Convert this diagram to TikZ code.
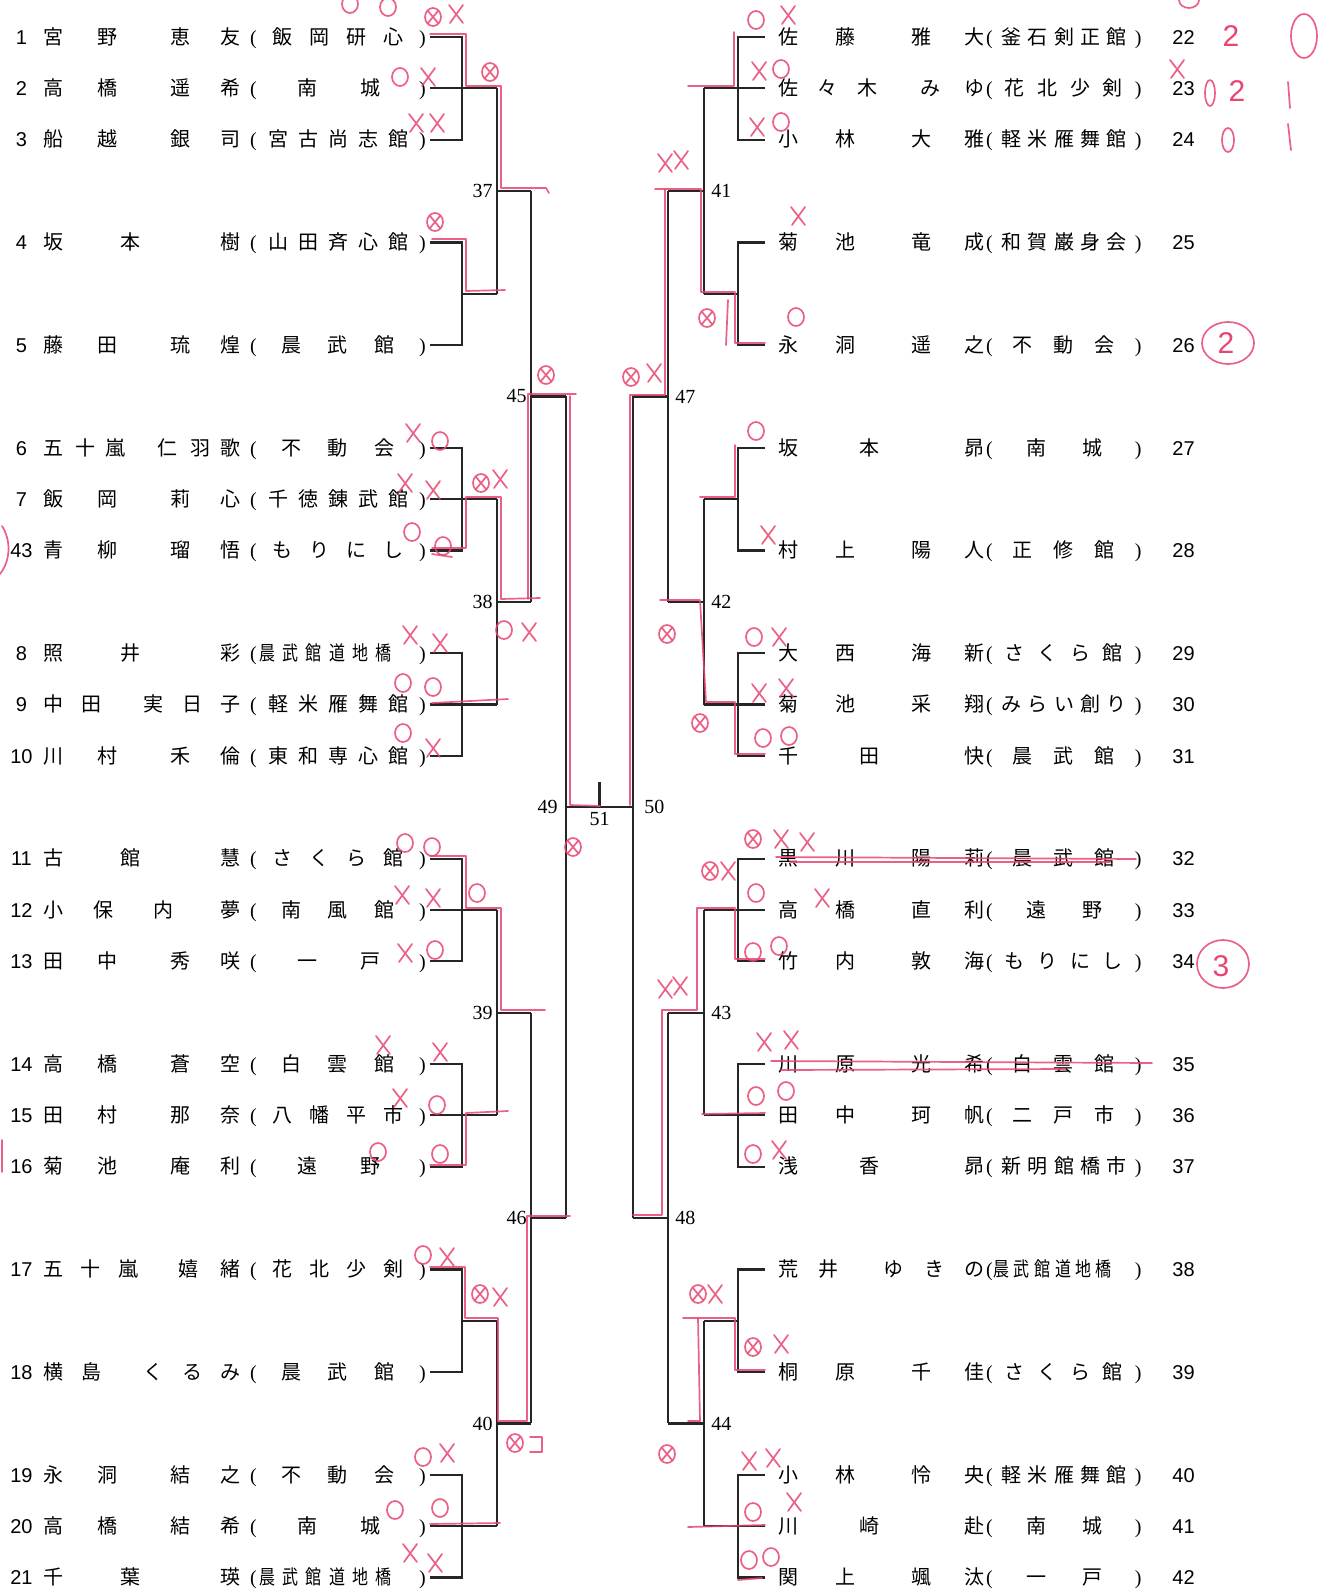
\documentclass[tikz,border=0pt]{standalone}
\usepackage{fontspec}
\setmainfont{Noto Sans CJK JP}
\newfontfamily\numf{Liberation Sans}
\newfontfamily\serf{Liberation Serif}
\usepackage{graphicx}
\usetikzlibrary{calc}
\newdimen\pxu \pxu=0.5pt
\definecolor{pen}{RGB}{232,70,112}
\newcommand\bkpc[2]{\rlap{\hspace*{#1\pxu}\makebox[0pt]{#2}}}
\def\nox{53}\def\nsc{1}\def\kox{253}\def\ksc{1}
\newcommand\bkpn[2]{\bkpc{\fpeval{\nox+\nsc*(#1-53)}}{#2}}
\newcommand\bkpk[2]{\bkpc{\fpeval{\kox+\ksc*(#1-253)}}{#2}}
\newcommand\sqz[1]{\scalebox{0.8}[1]{#1}}
\newcommand\nmA[4]{\bkpn{53}{#1}\bkpn{107}{#2}\bkpn{180}{#3}\bkpn{230}{#4}}
\newcommand\nmB[3]{\bkpn{53}{#1}\bkpn{130}{#2}\bkpn{230}{#3}}
\newcommand\nmC[5]{\bkpn{53}{#1}\bkpn{91}{#2}\bkpn{153}{#3}\bkpn{192}{#4}\bkpn{230}{#5}}
\newcommand\nmD[5]{\bkpn{53}{#1}\bkpn{90}{#2}\bkpn{128}{#3}\bkpn{188}{#4}\bkpn{230}{#5}}
\newcommand\nmE[6]{\bkpn{53}{#1}\bkpn{85}{#2}\bkpn{115}{#3}\bkpn{167}{#4}\bkpn{200}{#5}\bkpn{230}{#6}}
\newcommand\nmF[4]{\bkpn{53}{#1}\bkpn{103}{#2}\bkpn{163}{#3}\bkpn{230}{#4}}
\newcommand\clB[2]{\bkpk{307}{#1}\bkpk{370}{#2}}
\newcommand\clC[3]{\bkpk{291}{#1}\bkpk{337.5}{#2}\bkpk{384}{#3}}
\newcommand\clD[4]{\bkpk{282}{#1}\bkpk{319}{#2}\bkpk{356}{#3}\bkpk{393}{#4}}
\newcommand\clE[5]{\bkpk{278}{#1}\bkpk{308}{#2}\bkpk{338}{#3}\bkpk{368}{#4}\bkpk{398}{#5}}
\newcommand\clF[6]{\bkpk{267}{\sqz{#1}}\bkpk{290}{\sqz{#2}}\bkpk{313}{\sqz{#3}}\bkpk{337}{\sqz{#4}}\bkpk{360}{\sqz{#5}}\bkpk{383}{\sqz{#6}}}
\newcommand\Lrow[5]{%
  \node[rowtxt] (#1) at (0,{37+51.35*#2+7.2}) {\makebox[426\pxu][l]{\bkpc{21}{\numf #3}#4\bkpk{253}{\serf(}#5\bkpk{422}{\serf)}}};
  \coordinate (e#1) at (430,{37+51.35*#2});}
\newcommand\Rrow[5]{%
  \node[rowtxt] (#1) at (768,{37+51.35*#2+7.2}) {\makebox[430\pxu][l]{#4\bkpk{253}{\serf(}#5\bkpk{422}{\serf)}\rlap{\hspace*{404\pxu}\numf #3}}};
  \coordinate (e#1) at (765,{37+51.35*#2});}
\newcommand\hmO[2]{\draw[pen] (#1,#2) ellipse [x radius=8,y radius=9];}
\newcommand\hmX[2]{\draw[pen] (#1-7,#2-9) -- (#1+7,#2+9) (#1+7,#2-9) -- (#1-6,#2+9);}
\newcommand\hmOX[2]{\hmO{#1}{#2}\draw[pen] (#1-5,#2-6) -- (#1+5,#2+6) (#1+5,#2-6) -- (#1-5,#2+6);}
\begin{document}
\begin{tikzpicture}[x=0.5pt,y=-0.5pt,
  rowtxt/.style={anchor=base west,inner sep=0pt,font=\fontsize{10pt}{12pt}\selectfont},
  br/.style={draw=black!85,line width=1.1pt},
  jlL/.style={anchor=east,inner sep=1pt,xshift=-1pt,font=\serf\fontsize{10pt}{12pt}\selectfont},
  jlR/.style={anchor=west,inner sep=1pt,xshift=2.5pt,font=\serf\fontsize{10pt}{12pt}\selectfont},
  pen/.style={draw=pen,line width=0.85pt,line cap=round,line join=round,opacity=0.85},
  hnum/.style={text=pen,inner sep=0pt,font=\numf\fontsize{15pt}{15pt}\selectfont}]
\fill[white] (0,0) rectangle (1327,1591);
\useasboundingbox (0,0) rectangle (1327,1591);
% ---------- left entries
\Lrow{r1}{0}{1}{\nmA{宮}{野}{恵}{友}}{\clD{飯}{岡}{研}{心}}
\Lrow{r2}{1}{2}{\nmA{高}{橋}{遥}{希}}{\clB{南}{城}}
\Lrow{r3}{2}{3}{\nmA{船}{越}{銀}{司}}{\clE{宮}{古}{尚}{志}{館}}
\Lrow{r4}{4}{4}{\nmB{坂}{本}{樹}}{\clE{山}{田}{斉}{心}{館}}
\Lrow{r5}{6}{5}{\nmA{藤}{田}{琉}{煌}}{\clC{晨}{武}{館}}
\Lrow{r6}{8}{6}{\nmE{五}{十}{嵐}{仁}{羽}{歌}}{\clC{不}{動}{会}}
\Lrow{r7}{9}{7}{\nmA{飯}{岡}{莉}{心}}{\clE{千}{徳}{錬}{武}{館}}
\Lrow{r43}{10}{43}{\nmA{青}{柳}{瑠}{悟}}{\clD{も}{り}{に}{し}}
\Lrow{r8}{12}{8}{\nmB{照}{井}{彩}}{\clF{晨}{武}{館}{道}{地}{橋}}
\Lrow{r9}{13}{9}{\nmC{中}{田}{実}{日}{子}}{\clE{軽}{米}{雁}{舞}{館}}
\Lrow{r10}{14}{10}{\nmA{川}{村}{禾}{倫}}{\clE{東}{和}{専}{心}{館}}
\Lrow{r11}{16}{11}{\nmB{古}{館}{慧}}{\clD{さ}{く}{ら}{館}}
\Lrow{r12}{17}{12}{\nmF{小}{保}{内}{夢}}{\clC{南}{風}{館}}
\Lrow{r13}{18}{13}{\nmA{田}{中}{秀}{咲}}{\clB{一}{戸}}
\Lrow{r14}{20}{14}{\nmA{高}{橋}{蒼}{空}}{\clC{白}{雲}{館}}
\Lrow{r15}{21}{15}{\nmA{田}{村}{那}{奈}}{\clD{八}{幡}{平}{市}}
\Lrow{r16}{22}{16}{\nmA{菊}{池}{庵}{利}}{\clB{遠}{野}}
\Lrow{r17}{24}{17}{\nmD{五}{十}{嵐}{嬉}{緒}}{\clD{花}{北}{少}{剣}}
\Lrow{r18}{26}{18}{\nmC{横}{島}{く}{る}{み}}{\clC{晨}{武}{館}}
\Lrow{r19}{28}{19}{\nmA{永}{洞}{結}{之}}{\clC{不}{動}{会}}
\Lrow{r20}{29}{20}{\nmA{高}{橋}{結}{希}}{\clB{南}{城}}
\Lrow{r21}{30}{21}{\nmB{千}{葉}{瑛}}{\clF{晨}{武}{館}{道}{地}{橋}}
% ---------- right entries
\def\nox{20}\def\nsc{1.05}\def\kox{221}\def\ksc{0.88}
\Rrow{r22}{0}{22}{\nmA{佐}{藤}{雅}{大}}{\clE{釜}{石}{剣}{正}{館}}
\Rrow{r23}{1}{23}{\nmD{佐}{々}{木}{み}{ゆ}}{\clD{花}{北}{少}{剣}}
\Rrow{r24}{2}{24}{\nmA{小}{林}{大}{雅}}{\clE{軽}{米}{雁}{舞}{館}}
\Rrow{r25}{4}{25}{\nmA{菊}{池}{竜}{成}}{\clE{和}{賀}{巌}{身}{会}}
\Rrow{r26}{6}{26}{\nmA{永}{洞}{遥}{之}}{\clC{不}{動}{会}}
\Rrow{r27}{8}{27}{\nmB{坂}{本}{昴}}{\clB{南}{城}}
\Rrow{r28}{10}{28}{\nmA{村}{上}{陽}{人}}{\clC{正}{修}{館}}
\Rrow{r29}{12}{29}{\nmA{大}{西}{海}{新}}{\clD{さ}{く}{ら}{館}}
\Rrow{r30}{13}{30}{\nmA{菊}{池}{采}{翔}}{\clE{み}{ら}{い}{創}{り}}
\Rrow{r31}{14}{31}{\nmB{千}{田}{快}}{\clC{晨}{武}{館}}
\Rrow{r32}{16}{32}{\nmA{黒}{川}{陽}{莉}}{\clC{晨}{武}{館}}
\Rrow{r33}{17}{33}{\nmA{高}{橋}{直}{利}}{\clB{遠}{野}}
\Rrow{r34}{18}{34}{\nmA{竹}{内}{敦}{海}}{\clD{も}{り}{に}{し}}
\Rrow{r35}{20}{35}{\nmA{川}{原}{光}{希}}{\clC{白}{雲}{館}}
\Rrow{r36}{21}{36}{\nmA{田}{中}{珂}{帆}}{\clC{二}{戸}{市}}
\Rrow{r37}{22}{37}{\nmB{浅}{香}{昴}}{\clE{新}{明}{館}{橋}{市}}
\Rrow{r38}{24}{38}{\nmC{荒}{井}{ゆ}{き}{の}}{\clF{晨}{武}{館}{道}{地}{橋}}
\Rrow{r39}{26}{39}{\nmA{桐}{原}{千}{佳}}{\clD{さ}{く}{ら}{館}}
\Rrow{r40}{28}{40}{\nmA{小}{林}{怜}{央}}{\clE{軽}{米}{雁}{舞}{館}}
\Rrow{r41}{29}{41}{\nmB{川}{崎}{赴}}{\clB{南}{城}}
\Rrow{r42}{30}{42}{\nmA{関}{上}{颯}{汰}}{\clB{一}{戸}}
% ---------- bracket columns
\coordinate (xL1) at (462,0); \coordinate (xL2) at (497,0);
\coordinate (xL3) at (531,0); \coordinate (xL4) at (566,0);
\coordinate (xR1) at (738,0); \coordinate (xR2) at (704,0);
\coordinate (xR3) at (668,0); \coordinate (xR4) at (633,0);
% ---------- left bracket
\draw[br] (er1) -- (er1 -| xL1) -- (er3 -| xL1) -- (er3);
\draw[br] (er2) -- (er2 -| xL2);
\draw[br] (er4) -- (er4 -| xL1) -- (er5 -| xL1) -- (er5);
\coordinate (m45) at ($(er4 -| xL1)!0.5!(er5 -| xL1)$);
\draw[br] (m45) -- (m45 -| xL2);
\draw[br] (er2 -| xL2) -- (m45 -| xL2);
\coordinate (j37) at ($(er2 -| xL2)!0.5!(m45 -| xL2)$);
\draw[br] (j37) -- (j37 -| xL3);
\draw[br] (er6) -- (er6 -| xL1) -- (er43 -| xL1) -- (er43);
\draw[br] (er7) -- (er7 -| xL2);
\draw[br] (er8) -- (er8 -| xL1) -- (er10 -| xL1) -- (er10);
\draw[br] (er9) -- (er9 -| xL2);
\draw[br] (er7 -| xL2) -- (er9 -| xL2);
\coordinate (j38) at ($(er7 -| xL2)!0.5!(er9 -| xL2)$);
\draw[br] (j38) -- (j38 -| xL3);
\draw[br] (j37 -| xL3) -- (j38 -| xL3);
\coordinate (j45) at ($(j37 -| xL3)!0.5!(j38 -| xL3)$);
\draw[br] (j45) -- (j45 -| xL4);
\draw[br] (er11) -- (er11 -| xL1) -- (er13 -| xL1) -- (er13);
\draw[br] (er12) -- (er12 -| xL2);
\draw[br] (er14) -- (er14 -| xL1) -- (er16 -| xL1) -- (er16);
\draw[br] (er15) -- (er15 -| xL2);
\draw[br] (er12 -| xL2) -- (er15 -| xL2);
\coordinate (j39) at ($(er12 -| xL2)!0.5!(er15 -| xL2)$);
\draw[br] (j39) -- (j39 -| xL3);
\draw[br] (er17) -- (er17 -| xL1) -- (er18 -| xL1) -- (er18);
\coordinate (m1718) at ($(er17 -| xL1)!0.5!(er18 -| xL1)$);
\draw[br] (m1718) -- (m1718 -| xL2);
\draw[br] (er19) -- (er19 -| xL1) -- (er21 -| xL1) -- (er21);
\draw[br] (er20) -- (er20 -| xL2);
\draw[br] (m1718 -| xL2) -- (er20 -| xL2);
\coordinate (j40) at ($(m1718 -| xL2)!0.5!(er20 -| xL2)$);
\draw[br] (j40) -- (j40 -| xL3);
\draw[br] (j39 -| xL3) -- (j40 -| xL3);
\coordinate (j46) at ($(j39 -| xL3)!0.5!(j40 -| xL3)$);
\draw[br] (j46) -- (j46 -| xL4);
\draw[br] (j45 -| xL4) -- (j46 -| xL4);
\coordinate (j49) at ($(j45 -| xL4)!0.5!(j46 -| xL4)$);
% ---------- right bracket
\draw[br] (er22) -- (er22 -| xR1) -- (er24 -| xR1) -- (er24);
\draw[br] (er23) -- (er23 -| xR2);
\draw[br] (er25) -- (er25 -| xR1) -- (er26 -| xR1) -- (er26);
\coordinate (m2526) at ($(er25 -| xR1)!0.5!(er26 -| xR1)$);
\draw[br] (m2526) -- (m2526 -| xR2);
\draw[br] (er23 -| xR2) -- (m2526 -| xR2);
\coordinate (j41) at ($(er23 -| xR2)!0.5!(m2526 -| xR2)$);
\draw[br] (j41) -- (j41 -| xR3);
\draw[br] (er27) -- (er27 -| xR1) -- (er28 -| xR1) -- (er28);
\coordinate (m2728) at ($(er27 -| xR1)!0.5!(er28 -| xR1)$);
\draw[br] (m2728) -- (m2728 -| xR2);
\draw[br] (er29) -- (er29 -| xR1) -- (er31 -| xR1) -- (er31);
\draw[br] (er30) -- (er30 -| xR2);
\draw[br] (m2728 -| xR2) -- (er30 -| xR2);
\coordinate (j42) at ($(m2728 -| xR2)!0.5!(er30 -| xR2)$);
\draw[br] (j42) -- (j42 -| xR3);
\draw[br] (j41 -| xR3) -- (j42 -| xR3);
\coordinate (j47) at ($(j41 -| xR3)!0.5!(j42 -| xR3)$);
\draw[br] (j47) -- (j47 -| xR4);
\draw[br] (er32) -- (er32 -| xR1) -- (er34 -| xR1) -- (er34);
\draw[br] (er33) -- (er33 -| xR2);
\draw[br] (er35) -- (er35 -| xR1) -- (er37 -| xR1) -- (er37);
\draw[br] (er36) -- (er36 -| xR2);
\draw[br] (er33 -| xR2) -- (er36 -| xR2);
\coordinate (j43) at ($(er33 -| xR2)!0.5!(er36 -| xR2)$);
\draw[br] (j43) -- (j43 -| xR3);
\draw[br] (er38) -- (er38 -| xR1) -- (er39 -| xR1) -- (er39);
\coordinate (m3839) at ($(er38 -| xR1)!0.5!(er39 -| xR1)$);
\draw[br] (m3839) -- (m3839 -| xR2);
\draw[br] (er40) -- (er40 -| xR1) -- (er42 -| xR1) -- (er42);
\draw[br] (er41) -- (er41 -| xR2);
\draw[br] (m3839 -| xR2) -- (er41 -| xR2);
\coordinate (j44) at ($(m3839 -| xR2)!0.5!(er41 -| xR2)$);
\draw[br] (j44) -- (j44 -| xR3);
\draw[br] (j43 -| xR3) -- (j44 -| xR3);
\coordinate (j48) at ($(j43 -| xR3)!0.5!(j44 -| xR3)$);
\draw[br] (j48) -- (j48 -| xR4);
\draw[br] (j47 -| xR4) -- (j48 -| xR4);
\coordinate (j50) at ($(j47 -| xR4)!0.5!(j48 -| xR4)$);
% ---------- final
\draw[br] (j49) -- (j50);
\coordinate (j51) at ($(j49)!0.5!(j50)$);
\coordinate (t51) at ($(j51)+(0,-25)$);
\draw[br] (j51) -- (t51);
% ---------- match numbers
\node[jlL] (n37) at (j37) {37};
\node[jlL] (n38) at (j38) {38};
\node[jlL] (n39) at (j39) {39};
\node[jlL] (n40) at (j40) {40};
\node[jlL] (n45) at (j45) {45};
\node[jlL] (n46) at (j46) {46};
\node[jlL,xshift=-2pt] (n49) at (j49) {49};
\node[jlR] (n41) at (j41) {41};
\node[jlR] (n42) at (j42) {42};
\node[jlR] (n43) at (j43) {43};
\node[jlR] (n44) at (j44) {44};
\node[jlR] (n47) at (j47) {47};
\node[jlR] (n48) at (j48) {48};
\node[jlR,xshift=2pt] (n50) at (j50) {50};
\node[anchor=north,inner sep=1pt,yshift=-1.5pt,font=\serf\fontsize{10pt}{12pt}\selectfont] (n51) at (j51) {51};
% ---------- red hand traces (left)
\draw[pen] (430,34) -- (466,34) -- (466,86) -- (501,86) -- (501,188) -- (546,188) -- (549,193);
\draw[pen] (432,239) -- (466,239) -- (466,291) -- (505,290);
\draw[pen] (432,548) -- (466,548) -- (466,497) -- (501,497) -- (501,599) -- (540,598);
\draw[pen] (528,599) -- (528,394) -- (576,394);
\draw[pen] (570,396) -- (570,805) -- (600,806);
\draw[pen] (432,554) -- (452,557);
\draw[pen] (432,703) -- (508,699);
\draw[pen] (430,856) -- (466,856) -- (466,908) -- (501,908) -- (501,1010) -- (545,1010);
\draw[pen] (430,1165) -- (466,1165) -- (466,1113) -- (508,1111);
\draw[pen] (430,1267) -- (465,1267) -- (465,1318) -- (498,1318) -- (498,1421) -- (527,1421) -- (527,1216) -- (570,1216);
\draw[pen] (430,1524) -- (500,1523);
% ---------- red hand traces (right)
\draw[pen] (734,32) -- (734,86) -- (688,86);
\draw[pen] (765,343) -- (735,343) -- (735,292) -- (701,292) -- (701,189) -- (655,189);
\draw[pen] (728,300) -- (726,345);
\draw[pen] (665,189) -- (665,395) -- (630,395) -- (630,805);
\draw[pen] (735,445) -- (735,497) -- (700,497);
\draw[pen] (765,754) -- (735,754) -- (735,702) -- (706,702) -- (700,600) -- (660,600);
\draw[pen] (765,959) -- (735,959) -- (735,908) -- (697,908) -- (697,1010) -- (662,1010) -- (662,1215) -- (633,1215);
\draw[pen] (765,1113) -- (702,1114);
\draw[pen] (765,1370) -- (735,1370) -- (735,1318) -- (683,1318);
\draw[pen] (698,1318) -- (700,1421) -- (688,1421);
\draw[pen] (765,1525) -- (688,1527);
\draw[pen] (762,1578) -- (738,1580);
% ---------- strike-through lines
\draw[pen] (776,857) -- (1136,859);
\draw[pen] (790,862) -- (1110,862);
\draw[pen] (771,1061) -- (1152,1063);
\draw[pen] (781,1070) -- (1065,1069);
% ---------- marks (left)
\hmO{350}{4} \hmO{388}{7}
\hmOX{433}{17} \hmX{456}{14}
\hmO{400}{77} \hmX{428}{77}
\hmX{416}{123} \hmX{437}{123}
\hmOX{490}{72}
\hmOX{435}{222}
\hmX{413}{433} \hmO{440}{441}
\hmX{405}{483} \hmX{433}{490}
\hmOX{481}{483} \hmX{500}{479}
\hmO{412}{532} \hmO{443}{546}
\hmO{504}{630} \hmX{529}{632}
\hmX{410}{635} \hmX{440}{643}
\hmO{403}{683} \hmO{433}{687}
\hmO{403}{733} \hmX{433}{748}
\hmOX{546}{375}
\hmO{405}{843} \hmO{432}{847}
\hmX{402}{895} \hmX{433}{898}
\hmO{477}{893}
\hmX{405}{953} \hmO{435}{950}
\hmX{383}{1045} \hmX{440}{1052}
\hmX{400}{1098} \hmO{437}{1105}
\hmO{378}{1152} \hmO{440}{1154}
\hmOX{573}{847}
\hmO{423}{1255} \hmX{447}{1257}
\hmOX{480}{1294} \hmX{500}{1297}
\hmOX{515}{1443}
\draw[pen] (530,1437) -- (542,1437) -- (542,1452) -- (530,1452);
\hmO{423}{1457} \hmX{447}{1453}
\hmO{395}{1510} \hmO{440}{1508}
\hmX{410}{1553} \hmX{435}{1563}
\draw[pen] (2,526) .. controls (11,540) and (11,560) .. (0,574);
\draw[pen] (2,1140) -- (2,1172);
% ---------- marks (right)
\hmO{756}{20} \hmX{788}{15}
\hmX{759}{71} \hmO{781}{69}
\hmX{757}{127} \hmO{781}{122}
\hmX{665}{163} \hmX{681}{160}
\hmX{798}{216}
\hmO{796}{317} \hmOX{707}{318}
\hmOX{631}{377} \hmX{654}{373}
\hmO{756}{431}
\hmX{768}{535}
\hmOX{667}{634}
\hmO{754}{637} \hmX{779}{637}
\hmX{759}{693} \hmX{786}{688}
\hmO{763}{738} \hmO{789}{736} \hmOX{700}{723}
\hmOX{753}{839} \hmX{781}{839} \hmX{807}{842}
\hmO{756}{893} \hmX{822}{898}
\hmO{753}{952} \hmO{779}{946}
\hmOX{710}{871} \hmX{728}{871}
\hmX{665}{989} \hmX{680}{986}
\hmX{764}{1042} \hmX{791}{1040}
\hmO{756}{1096} \hmO{786}{1091}
\hmO{753}{1154} \hmX{779}{1150}
\hmOX{698}{1294} \hmX{715}{1294}
\hmOX{753}{1347} \hmX{781}{1344}
\hmOX{667}{1454}
\hmX{749}{1461} \hmX{773}{1458}
\hmO{753}{1512} \hmX{794}{1502}
\hmO{749}{1560} \hmO{771}{1557}
% ---------- score notes (top right)
\draw[pen] (1189,0) ellipse [x radius=10,y radius=8];
\node[hnum] (s1) at (1231,36) {2};
\draw[pen] (1304,36) ellipse [x radius=13,y radius=22];
\hmX{1177}{69}
\draw[pen] (1210,93) ellipse [x radius=5,y radius=13];
\node[hnum] (s2) at (1237,91) {2};
\draw[pen] (1288,82) -- (1290,108);
\draw[pen] (1228,140) ellipse [x radius=6,y radius=12];
\draw[pen] (1288,124) -- (1291,150);
\draw[pen] (1228,343) ellipse [x radius=26,y radius=21];
\node[hnum] (s3) at (1226,343) {2};
\draw[pen] (1223,964) ellipse [x radius=26,y radius=24];
\node[hnum] (s4) at (1221,966) {3};
\end{tikzpicture}
\end{document}
